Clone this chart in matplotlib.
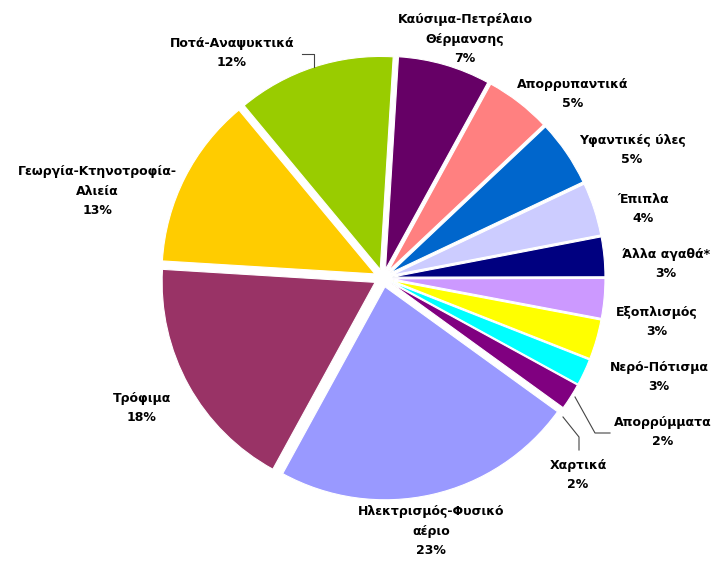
import matplotlib
matplotlib.use("Agg")
import matplotlib.pyplot as plt

# categories clockwise from the top
labels = ["Καύσιμα-Πετρέλαιο\nΘέρμανσης", "Απορρυπαντικά", "Υφαντικές ύλες", "Έπιπλα",
          "Άλλα αγαθά*", "Εξοπλισμός", "Νερό-Πότισμα", "Απορρύμματα", "Χαρτικά",
          "Ηλεκτρισμός-Φυσικό\nαέριο", "Τρόφιμα", "Γεωργία-Κτηνοτροφία-\nΑλιεία",
          "Ποτά-Αναψυκτικά"]
values = [7, 5, 5, 4, 3, 3, 3, 2, 2, 23, 18, 13, 12]
colors = ["#660066", "#FF8080", "#0066CC", "#CCCCFF", "#000080", "#CC99FF", "#FFFF00",
          "#00FFFF", "#800080", "#9999FF", "#993366", "#FFCC00", "#99CC00"]

# label centres in pixels (x, y from top)
label_pos = [(465, 39), (573, 94), (632, 150), (643, 209), (666, 264), (657, 322),
             (659, 377), (663, 432), (578, 475), (431, 531), (142, 408), (97, 191),
             (232, 53)]

W, H = 721, 561
fig = plt.figure(figsize=(W / 100, H / 100), dpi=100)
ax = fig.add_axes([0, 0, 1, 1])
ax.axis("off")

R = 213
# explode is in data units here (pixels)
ax.pie(values, colors=colors, startangle=86.5, counterclock=False,
       center=(383, H - 278), radius=R, explode=[9] * len(values),
       wedgeprops=dict(edgecolor="white", linewidth=0.8))
ax.set_xlim(0, W)
ax.set_ylim(0, H)
ax.set_aspect("equal")

for lab, v, (x, y) in zip(labels, values, label_pos):
    ax.text(x, H - y, f"{lab}\n{v}%", ha="center", va="center", fontsize=9,
            fontweight="bold", linespacing=1.62, multialignment="center",
            family="DejaVu Sans")

# leader lines
line_kw = dict(color="#444444", lw=0.8)
ax.plot([302, 314, 314], [H - 54, H - 54, H - 67], **line_kw)
ax.plot([610, 595, 575], [H - 433, H - 433, H - 397], **line_kw)
ax.plot([579, 579, 563], [H - 450, H - 437, H - 417], **line_kw)

fig.savefig("out.png", dpi=100)
